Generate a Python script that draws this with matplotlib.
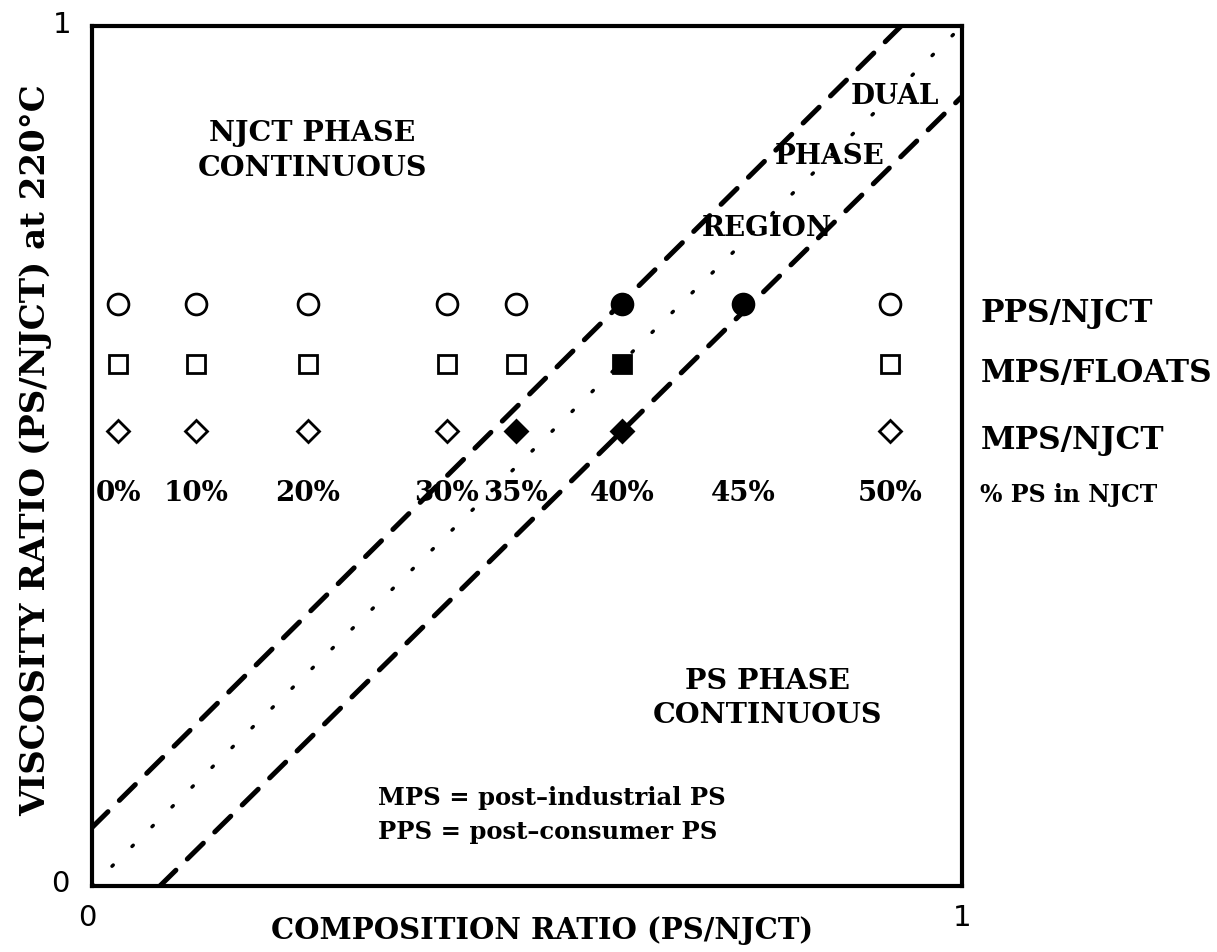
import matplotlib
matplotlib.use('Agg')
import matplotlib.pyplot as plt

# --- Data ---
# composition ratio (PS/NJCT) at which each blend is placed, and its PS content
blend_x = [0.030, 0.120, 0.248, 0.408, 0.487, 0.609, 0.748, 0.917]
blend_pct = ['0%', '10%', '20%', '30%', '35%', '40%', '45%', '50%']

# viscosity ratio row of each series
series_names = ['PPS/NJCT', 'MPS/FLOATS', 'MPS/NJCT']
series_y = [0.677, 0.607, 0.529]
series_markers = ['o', 's', 'D']
# 1 = dual phase (filled), 0 = single phase (open), None = not measured
pps_njct = [0, 0, 0, 0, 0, 1, 1, 0]
mps_floats = [0, 0, 0, 0, 0, 1, None, 0]
mps_njct = [0, 0, 0, 0, 1, 1, None, 0]
series_state = [pps_njct, mps_floats, mps_njct]

# phase inversion boundaries (x, y end points)
upper_x = [0.0, 0.93]
upper_y = [0.068, 1.0]
lower_x = [0.078, 1.0]
lower_y = [0.0, 0.918]
ideal_x = [0.0, 1.0]
ideal_y = [0.0, 1.0]

serif = 'DejaVu Serif'
bold = dict(family=serif, fontweight='bold')

fig = plt.figure(figsize=(12.17, 9.53), dpi=100)
ax = fig.add_axes([92 / 1217, 1 - 887 / 953, 870 / 1217, 860 / 953])
ax.set_xlim(0, 1)
ax.set_ylim(0, 1)

# boundaries of the dual phase region
ax.plot(upper_x, upper_y, color='black', lw=3.6, dashes=(4.5, 3.2), dash_capstyle='round')
ax.plot(lower_x, lower_y, color='black', lw=3.6, dashes=(4.5, 3.2), dash_capstyle='round')
ax.plot(ideal_x, ideal_y, color='black', lw=2.5, dashes=(0.5, 7.6), dash_capstyle='round')

sizes = {'o': 15, 's': 12.5, 'D': 11}
for y, m, states in zip(series_y, series_markers, series_state):
    for x, st in zip(blend_x, states):
        if st is None:
            continue
        ax.plot([x], [y], marker=m, ms=sizes[m], mec='black', mew=2.0,
                mfc='black' if st else 'white', ls='none', zorder=5)

for x, p in zip(blend_x, blend_pct):
    ax.text(x, 0.458, p, ha='center', va='center', fontsize=20, **bold)

# series names to the right of the frame
for y, name in zip(series_y, series_names):
    ax.text(1.021, y - 0.01, name, ha='left', va='center', fontsize=22.5, clip_on=False, **bold)
ax.text(1.021, 0.456, '% PS in NJCT', ha='left', va='center', fontsize=17,
        clip_on=False, **bold)

# region labels
ax.text(0.253, 0.856, 'NJCT PHASE\nCONTINUOUS', ha='center', va='center', fontsize=20.5,
        linespacing=1.35, **bold)
ax.text(0.776, 0.219, 'PS PHASE\nCONTINUOUS', ha='center', va='center', fontsize=20.5,
        linespacing=1.35, **bold)
ax.text(0.923, 0.919, 'DUAL', ha='center', va='center', fontsize=20, **bold)
ax.text(0.848, 0.849, 'PHASE', ha='center', va='center', fontsize=20, **bold)
ax.text(0.776, 0.766, 'REGION', ha='center', va='center', fontsize=20, **bold)

ax.text(0.329, 0.103, 'MPS = post\u2013industrial PS', ha='left', va='center',
        fontsize=17.5, **bold)
ax.text(0.329, 0.064, 'PPS = post\u2013consumer PS', ha='left', va='center',
        fontsize=17.5, **bold)

# frame and axis labels
for s in ax.spines.values():
    s.set_linewidth(3.0)
ax.set_xticks([])
ax.set_yticks([])
ax.text(-0.005, -0.036, '0', ha='center', va='center', fontsize=21, transform=ax.transAxes)
ax.text(1.0, -0.036, '1', ha='center', va='center', fontsize=21, transform=ax.transAxes)
ax.text(-0.036, 0.003, '0', ha='center', va='center', fontsize=21, transform=ax.transAxes)
ax.text(-0.034, 1.002, '1', ha='center', va='center', fontsize=21, transform=ax.transAxes)

ax.text(0.517, -0.034, 'COMPOSITION RATIO (PS/NJCT)', ha='center', va='top', fontsize=21,
        transform=ax.transAxes, **bold)
ax.text(-0.065, 0.508, 'VISCOSITY RATIO (PS/NJCT) at 220\u00b0C', ha='center',
        va='center', rotation=90, fontsize=24.5, transform=ax.transAxes, **bold)

fig.savefig('out.png', dpi=100)
